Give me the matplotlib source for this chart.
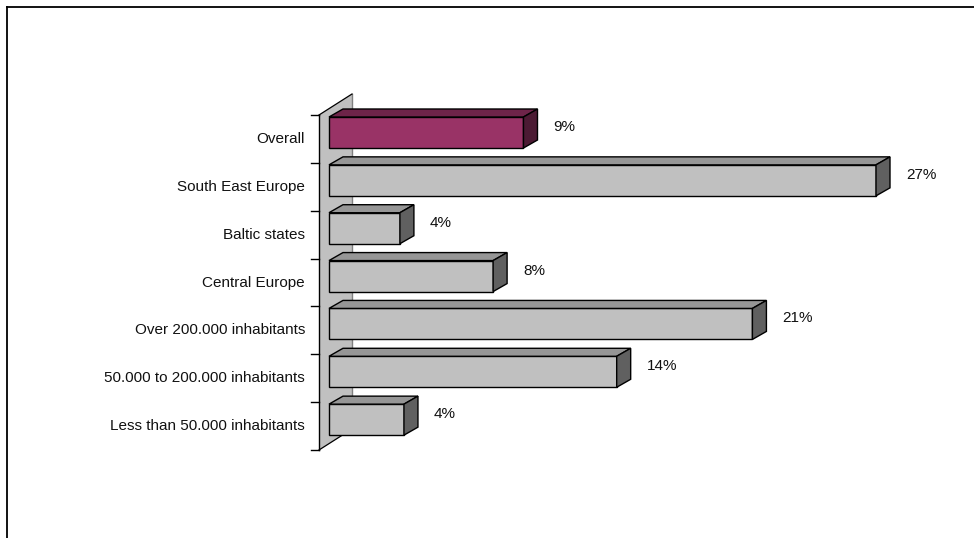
import matplotlib
matplotlib.use("Agg")
import matplotlib.pyplot as plt
from matplotlib.patches import Polygon, Rectangle
from matplotlib.lines import Line2D

plt.rcParams['font.family'] = ['Liberation Sans', 'DejaVu Sans']

categories = ["Overall", "South East Europe", "Baltic states", "Central Europe",
              "Over 200.000 inhabitants", "50.000 to 200.000 inhabitants",
              "Less than 50.000 inhabitants"]
values = [9.6, 27.0, 3.5, 8.1, 20.9, 14.2, 3.7]
labels = ["9%", "27%", "4%", "8%", "21%", "14%", "4%"]
highlight = "Overall"

W, H = 974, 538
fig = plt.figure(figsize=(W / 100, H / 100), dpi=100)

# axes placed so that the plot area matches the reference (pixels)
x_left, x_right = 329, 876
y_top, y_bot = 115, 450
ax = fig.add_axes([x_left / W, 1 - y_bot / H, (x_right - x_left) / W, (y_bot - y_top) / H])
ax.set_xlim(0, 27)
ax.set_ylim(len(categories) - 0.5, -0.5)
ax.axis("off")

ux = 27 / (x_right - x_left)          # data units per pixel, x
uy = len(categories) / (y_bot - y_top)  # data units per pixel, y

# back wall
wx0, wx1 = -10 * ux, 23 * ux
wdy = -21 * uy
y0, y1 = -0.5, len(categories) - 0.5
ax.add_patch(Polygon([(wx0, y0), (wx1, y0 + wdy), (wx1, y1 + wdy), (wx0, y1)],
                     closed=True, facecolor="#c0c0c0", edgecolor="none", clip_on=False, zorder=1))
ax.plot([wx1, wx1], [y0 + wdy, y1 + wdy], color="#808080", lw=1, clip_on=False, zorder=1.5)
ax.plot([wx0, wx1], [y0, y0 + wdy], color="black", lw=0.9, clip_on=False, zorder=1.5)
ax.plot([wx0, wx1], [y1, y1 + wdy], color="black", lw=0.9, clip_on=False, zorder=1.5)

# axis line and ticks
ax.plot([wx0, wx0], [y0, y1], color="black", lw=1, clip_on=False, zorder=2)
for k in range(len(categories) + 1):
    ax.plot([wx0 - 8 * ux, wx0], [k - 0.5, k - 0.5], color="black", lw=1, clip_on=False, zorder=2)

# 3d bars
dx, dy = 14 * ux, -8 * uy
for i, (cat, v, lab) in enumerate(zip(categories, values, labels)):
    if cat == highlight:
        front, top, side = "#993366", "#6e2449", "#4c1a33"
    else:
        front, top, side = "#c0c0c0", "#969696", "#606060"
    t = i - 0.5 + 2 * uy
    b = t + 31 * uy
    ax.add_patch(Rectangle((0, t), v, b - t, facecolor=front, edgecolor="black", lw=1,
                           clip_on=False, zorder=3))
    ax.add_patch(Polygon([(0, t), (v, t), (v + dx, t + dy), (dx, t + dy)], closed=True,
                         facecolor=top, edgecolor="black", lw=1, clip_on=False, zorder=3))
    ax.add_patch(Polygon([(v, t), (v + dx, t + dy), (v + dx, b + dy), (v, b)], closed=True,
                         facecolor=side, edgecolor="black", lw=1, clip_on=False, zorder=3))
    ax.text(v + dx + 16 * ux, i - 12 * uy, lab, ha="left", va="center", fontsize=11,
            color="#111111", clip_on=False)
    ax.text(wx0 - 14 * ux, i, cat, ha="right", va="center", fontsize=11,
            color="#111111", clip_on=False)

# outer frame (runs off the right and bottom edges)
fig.add_artist(Line2D([7 / W, 1.01], [1 - 7 / H, 1 - 7 / H], color="black", lw=1.3))
fig.add_artist(Line2D([7 / W, 7 / W], [1 - 7 / H, -0.01], color="black", lw=1.3))

fig.savefig("out.png", dpi=100)
